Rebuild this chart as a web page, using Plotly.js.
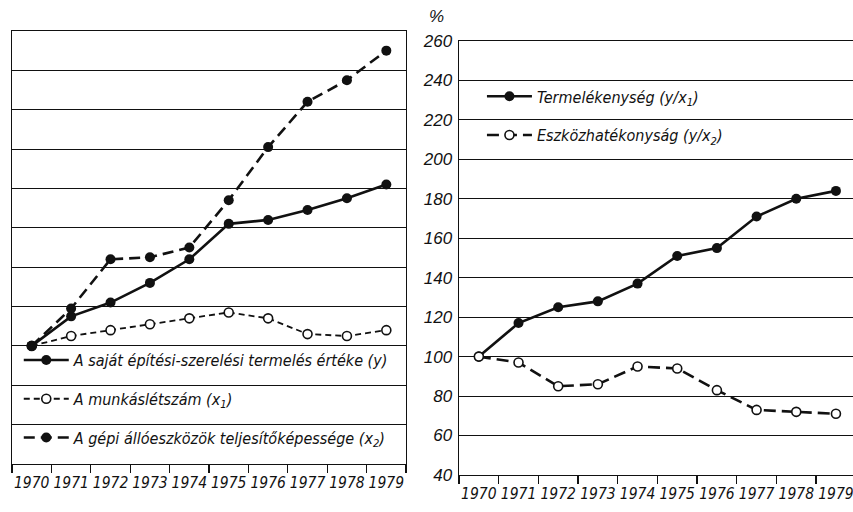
<!DOCTYPE html>
<html>
<head>
<meta charset="utf-8">
<script src="https://cdn.plot.ly/plotly-3.0.1.min.js"></script>
<style>
html,body{margin:0;padding:0;background:#fff;}
#chart{width:853px;height:512px;}
</style>
</head>
<body>
<div id="chart"></div>
<script>
// ---- data (index 1970 = 100 %) ----
const years = ['1970','1971','1972','1973','1974','1975','1976','1977','1978','1979'];
const sajatTermeles = [100, 115, 122, 132, 144, 162, 164, 169, 175, 182];      // y
const munkaslétszam = [100, 105, 108, 111, 114, 117, 114, 106, 105, 108];     // x1
const gepiAlloeszkoz = [100, 119, 144, 145, 150, 174, 201, 224, 235, 250];    // x2
const termelekenyseg = [100, 117, 125, 128, 137, 151, 155, 171, 180, 184];    // y/x1
const eszkozhatekonysag = [100, 97, 85, 86, 95, 94, 83, 73, 72, 71];          // y/x2
const yTicks = [40, 60, 80, 100, 120, 140, 160, 180, 200, 220, 240, 260];

const nameY  = 'A saját építési-szerelési termelés értéke (y)';
const nameX1 = 'A munkáslétszám (x<sub>1</sub>)';
const nameX2 = 'A gépi állóeszközök teljesítőképessége (x<sub>2</sub>)';
const nameT  = 'Termelékenység (y/x<sub>1</sub>)';
const nameE  = 'Eszközhatékonyság (y/x<sub>2</sub>)';

const INK = '#111';
const FONT = 'DejaVu Sans Condensed, DejaVu Sans, sans-serif';
const TICKFONT = 'Liberation Sans, DejaVu Sans, sans-serif';

const filled = {symbol:'circle', size:10, color:INK, line:{color:INK, width:0}};
const hollow = {symbol:'circle', size:9, color:'#fff', line:{color:INK, width:1.6}};

const traces = [
  {x: years, y: sajatTermeles, name: nameY, xaxis:'x', yaxis:'y', mode:'lines+markers',
   line:{color:INK, width:2.6}, marker:filled, legend:'legend', legendgroup:'a'},
  {x: years, y: munkaslétszam, name: nameX1, xaxis:'x', yaxis:'y', mode:'lines+markers',
   line:{color:INK, width:1.8, dash:'6px,4px'}, marker:hollow, legend:'legend', legendgroup:'b'},
  {x: years, y: gepiAlloeszkoz, name: nameX2, xaxis:'x', yaxis:'y', mode:'lines+markers',
   line:{color:INK, width:2.6, dash:'11px,6px'}, marker:filled, legend:'legend', legendgroup:'c'},
  {x: years, y: termelekenyseg, name: nameT, xaxis:'x2', yaxis:'y2', mode:'lines+markers',
   line:{color:INK, width:2.6}, marker:filled, legend:'legend2', legendgroup:'d'},
  {x: years, y: eszkozhatekonysag, name: nameE, xaxis:'x2', yaxis:'y2', mode:'lines+markers',
   line:{color:INK, width:2.6, dash:'12px,6px'}, marker:hollow, legend:'legend2', legendgroup:'e'}
];

const xCommon = {
  type:'category', range:[-0.5, 9.5], tickson:'boundaries', ticks:'outside', ticklen:8,
  tickwidth:1.2, tickcolor:INK, showline:true, linecolor:INK, linewidth:1.4, tickangle:0,
  ticklabelstandoff:4,
  showgrid:false, zeroline:false, automargin:false, fixedrange:true,
  tickfont:{family:FONT, size:15.5, color:INK, style:'italic'}
};
const yCommon = {
  range:[40, 260], tickvals:yTicks, showgrid:true, gridcolor:INK, gridwidth:1.1,
  zeroline:false, showline:true, linecolor:INK, linewidth:1.4, automargin:false, fixedrange:true,
  ticks:''
};

const legendCommon = {
  xanchor:'left', yanchor:'top', bgcolor:'rgba(0,0,0,0)', borderwidth:0,
  itemwidth:45, tracegroupgap:15, traceorder:'grouped', itemclick:false, itemdoubleclick:false,
  font:{family:FONT, size:16, color:INK, style:'italic'}
};

const layout = {
  width:853, height:512,
  margin:{l:0, r:0, t:0, b:0, pad:0},
  paper_bgcolor:'#fff', plot_bgcolor:'#fff',
  showlegend:true,
  xaxis: Object.assign({}, xCommon, {domain:[0.0141, 0.476], anchor:'y', mirror:true}),
  yaxis: Object.assign({}, yCommon, {domain:[0.0938, 0.9395], anchor:'x', mirror:true, showticklabels:false}),
  xaxis2: Object.assign({}, xCommon, {domain:[0.5381, 1], range:[-0.5, 9.43], anchor:'y2', mirror:true}),
  yaxis2: Object.assign({}, yCommon, {domain:[0.0723, 0.92], anchor:'x2', showticklabels:true,
    ticklabelstandoff:2, tickfont:{family:TICKFONT, size:17, color:INK, style:'italic'}}),
  legend: Object.assign({}, legendCommon, {x:0.022, y:0.33}),
  legend2: Object.assign({}, legendCommon, {x:0.565, y:0.845}),
  annotations: [
    {text:'%', xref:'paper', yref:'paper', x:0.512, y:0.967, xanchor:'center', yanchor:'middle',
     showarrow:false, font:{family:TICKFONT, size:17, color:INK, style:'italic'}}
  ]
};

Plotly.newPlot('chart', traces, layout, {staticPlot:true, displayModeBar:false});
</script>
</body>
</html>
